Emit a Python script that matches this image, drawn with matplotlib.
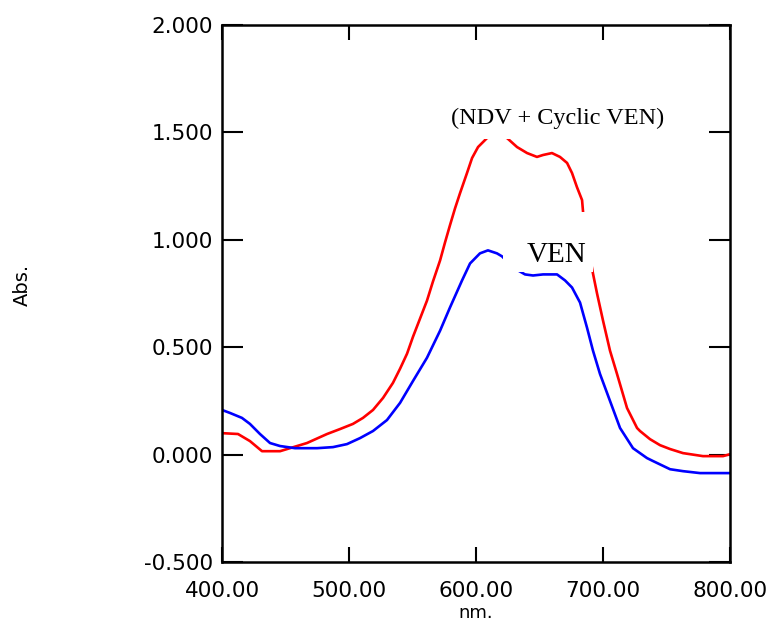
import matplotlib
matplotlib.use("Agg")
import matplotlib.pyplot as plt
from matplotlib.path import Path

# red trace: NDV + cyclic VEN
mix_nm = [400.0, 412.6, 422.0, 431.5, 445.7, 453.5, 466.9, 482.7, 492.9, 503.1,
          511.0, 518.9, 526.8, 534.6, 540.2, 545.7, 550.4, 555.9, 561.4, 566.1,
          571.7, 575.6, 579.5, 583.5, 587.4, 592.9, 596.9, 601.6, 608.7, 616.5,
          624.4, 632.3, 640.2, 648.0, 652.8, 659.8, 666.1, 671.7, 675.6, 679.5,
          683.5, 684.3, 688.2, 692.1, 695.3, 700.0, 705.5, 711.0, 718.9, 726.8,
          729.1, 737.0, 744.9, 752.8, 763.0, 778.7, 794.5, 800.0]
mix_abs = [0.100, 0.096, 0.063, 0.016, 0.016, 0.030, 0.054, 0.096, 0.119, 0.143,
           0.171, 0.208, 0.264, 0.334, 0.400, 0.470, 0.549, 0.633, 0.717, 0.806,
           0.904, 0.988, 1.068, 1.147, 1.217, 1.311, 1.381, 1.432, 1.474, 1.488,
           1.474, 1.432, 1.404, 1.386, 1.395, 1.404, 1.386, 1.358, 1.311, 1.245,
           1.185, 1.129, 0.974, 0.843, 0.750, 0.624, 0.484, 0.376, 0.217, 0.124,
           0.110, 0.072, 0.044, 0.026, 0.007, -0.007, -0.007, 0.002]

# blue trace: VEN
ven_nm = [400.0, 406.3, 415.7, 422.0, 429.9, 437.8, 445.7, 457.5, 474.8, 487.4,
          498.4, 508.7, 518.9, 529.9, 540.2, 550.4, 561.4, 571.7, 579.5, 589.0,
          595.3, 603.1, 609.4, 616.5, 620.5, 629.1, 638.6, 644.9, 652.8, 663.8,
          670.1, 675.6, 681.9, 687.4, 692.1, 697.6, 705.5, 713.4, 723.6, 729.1,
          734.6, 739.4, 752.8, 763.0, 776.4, 800.0]
ven_abs = [0.208, 0.194, 0.171, 0.143, 0.096, 0.054, 0.040, 0.030, 0.030, 0.035,
           0.049, 0.077, 0.110, 0.161, 0.241, 0.343, 0.451, 0.577, 0.685, 0.811,
           0.890, 0.937, 0.951, 0.937, 0.923, 0.871, 0.839, 0.834, 0.839, 0.839,
           0.811, 0.778, 0.708, 0.591, 0.484, 0.376, 0.250, 0.124, 0.030, 0.007,
           -0.016, -0.030, -0.068, -0.077, -0.086, -0.086]

xticks = [400, 500, 600, 700, 800]
xtick_labels = ["400.00", "500.00", "600.00", "700.00", "800.00"]
yticks = [-0.5, 0.0, 0.5, 1.0, 1.5, 2.0]
ytick_labels = ["-0.500", "0.000", "0.500", "1.000", "1.500", "2.000"]


def ven_box(x0, y0, width, height, mutation_size):
    # white label background, wider on the left and top
    l, r, b, t = 0.82, 0.24, 0.14, 1.03
    x1 = x0 + width + r * mutation_size
    y1 = y0 + height + t * mutation_size
    x0 = x0 - l * mutation_size
    y0 = y0 - b * mutation_size
    return Path([(x0, y0), (x1, y0), (x1, y1), (x0, y1), (x0, y0)], closed=True)


fig = plt.figure(figsize=(7.73, 6.26), dpi=100)
ax = fig.add_axes([0.2872, 0.1022, 0.6572, 0.8578])

ax.plot(mix_nm, mix_abs, color="#ff0000", lw=1.9)
ax.plot(ven_nm, ven_abs, color="#0000ff", lw=1.9)

ax.set_xlim(400, 800)
ax.set_ylim(-0.5, 2.0)
ax.set_xticks(xticks, xtick_labels)
ax.set_yticks(yticks, ytick_labels)

ax.tick_params(direction="in", top=True, right=True, width=1.5,
               labelsize=15.5, colors="black")
ax.tick_params(axis="x", length=11, pad=14)
ax.tick_params(axis="y", length=15, pad=6.5)
for s in ax.spines.values():
    s.set_linewidth(1.8)

ax.set_xlabel("nm.", fontsize=13)
ax.xaxis.set_label_coords(0.5, -0.079)
ax.set_ylabel("Abs.", fontsize=14)
ax.yaxis.set_label_coords(-0.374, 0.516)

ax.text(664.2, 1.540, "(NDV + Cyclic VEN)", family="Liberation Serif",
        fontsize=17.5, ha="center", va="baseline",
        bbox=dict(boxstyle="square,pad=0.4", fc="white", ec="none"))
ax.text(663.4, 0.897, "VEN", family="Liberation Serif", fontsize=21,
        ha="center", va="baseline",
        bbox=dict(boxstyle=ven_box, fc="white", ec="none"))

fig.savefig("out.png", dpi=100)
